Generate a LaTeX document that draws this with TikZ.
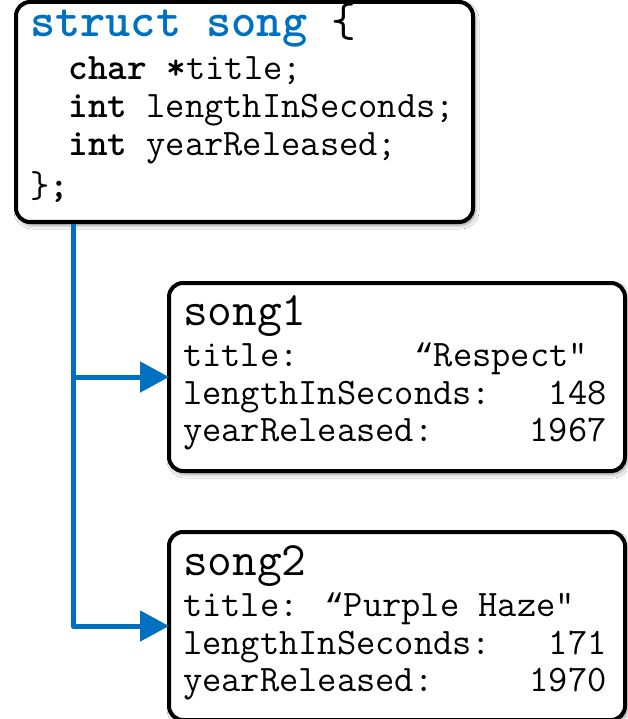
\documentclass[tikz,border=0pt]{standalone}
\usepackage{fontspec}
\newfontfamily\quotefont{Liberation Mono}
\usetikzlibrary{arrows.meta,shadows.blur}
\definecolor{codeblue}{RGB}{0,112,192}
\tikzset{
  box/.style={draw=black, line width=4pt, rounded corners=14pt, fill=white,
    inner sep=0pt, outer sep=0pt, anchor=north west,
    blur shadow={shadow xshift=2pt, shadow yshift=-3pt,
      shadow blur radius=4pt, shadow opacity=45}},
  codeline/.style={anchor=base west, inner sep=0pt, outer sep=0pt,
    font=\ttfamily\fontsize{37.4}{44}\selectfont},
  bigline/.style={codeline, font=\ttfamily\fontsize{48}{56}\selectfont},
  conn/.style={draw=codeblue, line width=5pt, line join=round,
    -{Triangle[length=29pt,width=30pt]}},
}
% curly opening quote, one character cell wide
\newcommand{\openq}{{\quotefont\fontsize{32.7}{44}\selectfont “}}
\begin{document}
\begin{tikzpicture}[x=1pt, y=-1pt]
  \useasboundingbox (0,0) rectangle (627,719);
  \fill[white] (0,0) rectangle (627,719);

  % struct declaration
  \node[box, minimum width=457pt, minimum height=220pt] (struct) at (16,2) {};
  \node[bigline] (sdecl) at (30,37) {\textbf{\color{codeblue}struct song} \{};
  \node[codeline] (sf1) at (30,80)  {~~\textbf{char *}title;};
  \node[codeline] (sf2) at (30,118) {~~\textbf{int} lengthInSeconds;};
  \node[codeline] (sf3) at (30,156) {~~\textbf{int} yearReleased;};
  \node[codeline] (send) at (30,197) {\}\textbf{;}};

  % first instance
  \node[box, minimum width=456pt, minimum height=188pt] (song1) at (169,283) {};
  \node[bigline] (s1name) at (183,325) {song1};
  \node[codeline] (s1a) at (183,366) {title:~~~~~~\openq Respect"};
  \node[codeline] (s1b) at (183,404) {lengthInSeconds:~~~148};
  \node[codeline] (s1c) at (183,441) {yearReleased:~~~~~1967};

  % second instance
  \node[box, minimum width=456pt, minimum height=188pt] (song2) at (169,532) {};
  \node[bigline] (s2name) at (183,575) {song2};
  \node[codeline] (s2a) at (183,616) {title: \openq Purple Haze"};
  \node[codeline] (s2b) at (183,654) {lengthInSeconds:~~~171};
  \node[codeline] (s2c) at (183,691) {yearReleased:~~~~~1970};

  % connectors from the struct to its instances
  \coordinate (trunk) at (73,224);
  \draw[conn] (trunk) |- (song2.west);
  \draw[conn] (trunk |- song1.west) -- (song1.west);
\end{tikzpicture}
\end{document}
